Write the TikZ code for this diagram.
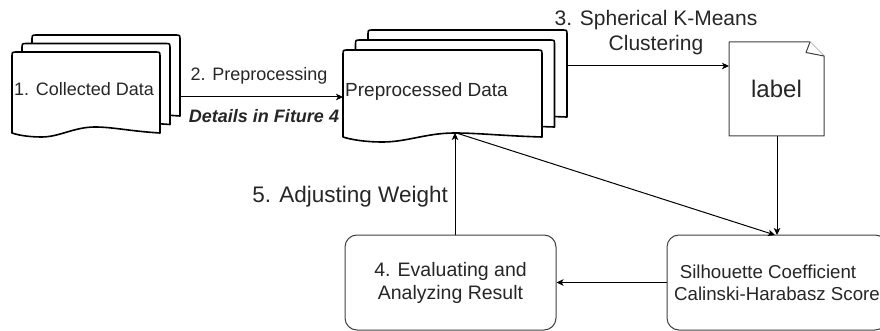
\documentclass[tikz,border=0pt]{standalone}
\usepackage{fontspec}
\setmainfont{Liberation Sans}
\usetikzlibrary{arrows.meta}
\definecolor{txtgray}{HTML}{262626}
\definecolor{boxgray}{HTML}{404040}

\tikzset{
  sheet/.style={draw=black, fill=white, line width=1.6pt, line join=round},
  conn/.style={draw=black, line width=1pt},
  arr/.style={conn, -{Stealth[length=7pt,width=6.5pt,inset=1.8pt]}},
  txt/.style={text=txtgray, inner sep=0pt},
  roundbox/.style={draw=boxgray, line width=1pt, rounded corners=12pt, fill=white,
                   text=txtgray, align=center, inner sep=0pt},
  notebox/.style={draw=boxgray, line width=1pt, fill=white, line join=round},
}

% one paper sheet of a document stack: x, top, width, bottom level, crest, trough
\newcommand\docsheet[6]{%
  \filldraw[sheet]
    (#1,#4) -- (#1,#2+5) .. controls (#1,#2) .. (#1+5,#2)
    -- (#1+#3-5,#2) .. controls (#1+#3,#2) .. (#1+#3,#2+5)
    -- (#1+#3,#4)
    .. controls (#1+0.80*#3,#4-0.3*#5) and (#1+0.68*#3,#4-#5) .. (#1+0.56*#3,#4-#5)
    .. controls (#1+0.42*#3,#4-#5) and (#1+0.32*#3,#4+#6) .. (#1+0.20*#3,#4+#6)
    .. controls (#1+0.10*#3,#4+#6) and (#1+0.03*#3,#4+0.4*#6) .. (#1,#4) -- cycle;%
}

\begin{document}
\begin{tikzpicture}[x=1pt,y=-1pt]
\useasboundingbox (0,0) rectangle (880,331);
\clip (0,0) rectangle (880,331);

% stack of collected data
\docsheet{32}{35}{148}{116}{6}{4}
\docsheet{22}{43.5}{148}{124.5}{6}{4}
\docsheet{12}{52}{148}{133}{6}{4}
\node[txt, font=\fontsize{18}{22}\selectfont] (collected) at (84,89) {1. Collected Data};

% stack of preprocessed data
\docsheet{368}{30}{199}{117}{4}{5}
\docsheet{355.5}{40}{199}{127}{4}{5}
\docsheet{343}{50}{199}{137}{4}{5}
\node[txt, anchor=west, font=\fontsize{19}{23}\selectfont] (prep) at (345,92) {Preprocessed Data};

% anchors on the stacks
\coordinate (collR) at (180,97);
\coordinate (prepL) at (343,97);
\coordinate (prepR) at (567,66);
\coordinate (prepB) at (455,133);
\coordinate (prepBd) at (458,133.5);

% label document with folded corner
\draw[notebox] (729,42) -- (810,42) -- (824,56) -- (824,136) -- (729,136) -- cycle;
\draw[notebox] (810,42) -- (806,52.5) -- (824,56);
\node[txt, font=\fontsize{24}{28}\selectfont] (label) at (776.5,89) {label};
\coordinate (labelL) at (729,66);
\coordinate (labelB) at (777,136);

% evaluation boxes
\node[roundbox, minimum width=211pt, minimum height=95pt,
      font=\fontsize{19.5}{23}\selectfont] (eval) at (450.5,282.5)
      {4. Evaluating and\\Analyzing Result};
\node[roundbox, minimum width=220pt, minimum height=95pt,
      font=\fontsize{18.7}{22}\selectfont] (sil) at (777,282.5)
      {Silhouette Coefficient\hspace*{18pt}\\Calinski-Harabasz Score};
\coordinate (evalT) at (455,235);
\coordinate (silT) at (777,235);
\coordinate (silTd) at (775,235);

% connectors
\draw[arr] (collR) -- (prepL);
\node[txt, font=\fontsize{18}{22}\selectfont] (steptwo) at (259,76) {2. Preprocessing};
\node[txt, font=\fontsize{18}{22}\selectfont\bfseries\itshape] (details) at (264,116) {Details in Fiture 4};

\draw[arr] (prepR) -- (labelL);
\node[txt, align=center, font=\fontsize{21}{25}\selectfont] (stepthree) at (656,32.5)
  {3. Spherical K-Means\\Clustering};

\draw[arr] (labelB) -- (silT);
\draw[arr] (prepBd) -- (silTd);
\draw[arr] (sil.west) -- (eval.east);
\draw[arr] (evalT) -- (prepB);
\node[txt, anchor=east, font=\fontsize{22.5}{27}\selectfont] (stepfive) at (448,197) {5. Adjusting Weight};
\end{tikzpicture}
\end{document}
